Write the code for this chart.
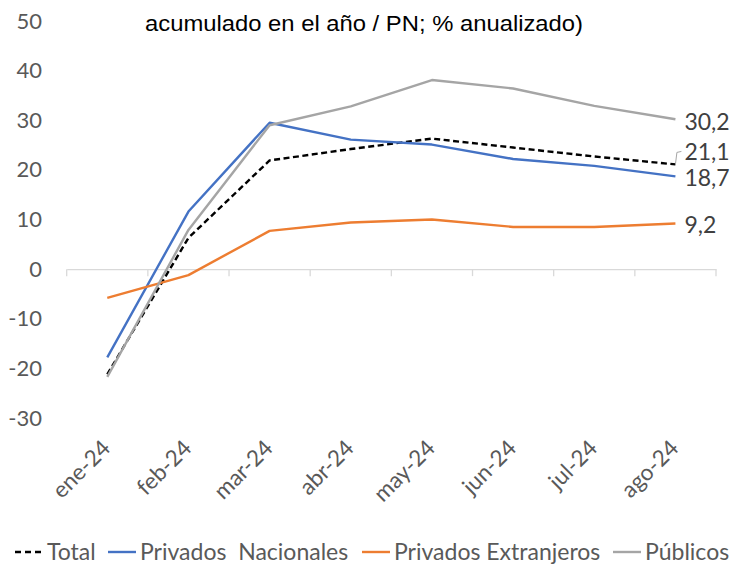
<!DOCTYPE html>
<html>
<head>
<meta charset="utf-8">
<script src="https://cdn.jsdelivr.net/npm/d3@7"></script>
<style>
    body { margin: 0; background: #ffffff; }
    svg { display: block; }
</style>
</head>
<body>
<div id="chart-holder"></div>
<script>

// data
var months = ['ene-24', 'feb-24', 'mar-24', 'abr-24', 'may-24', 'jun-24', 'jul-24', 'ago-24'];
var seriesNames = ['Total', 'Privados  Nacionales', 'Privados Extranjeros', 'Públicos'];
var total = [-21.2, 6.3, 21.9, 24.2, 26.3, 24.5, 22.7, 21.1];
var privadosNacionales = [-17.8, 11.6, 29.5, 26.1, 25.1, 22.2, 20.8, 18.7];
var privadosExtranjeros = [-5.8, -1.2, 7.7, 9.4, 10.0, 8.5, 8.5, 9.2];
var publicos = [-21.7, 7.9, 29.0, 32.8, 38.1, 36.4, 32.9, 30.2];
var endLabels = ['21,1', '18,7', '9,2', '30,2'];
var yTicks = [-30, -20, -10, 0, 10, 20, 30, 40, 50];
var titleText = 'acumulado en el año / PN; % anualizado)';

function createChart(elementId) {

    var width = 731;
    var height = 565;

    var svg = d3
        .select(elementId)
        .append('svg')
        .attr('width', width)
        .attr('height', height);

    var series = [
        { name: seriesNames[0], values: total, color: '#000000', dash: '6,3.5', label: endLabels[0], nudge: -12 },
        { name: seriesNames[1], values: privadosNacionales, color: '#4472C4', dash: null, label: endLabels[1], nudge: 2 },
        { name: seriesNames[2], values: privadosExtranjeros, color: '#ED7D31', dash: null, label: endLabels[2], nudge: 1.5 },
        { name: seriesNames[3], values: publicos, color: '#A5A5A5', dash: null, label: endLabels[3], nudge: 3 }
    ];

    // scales
    var x = d3
        .scaleBand()
        .domain(months)
        .range([66.7, 716]);

    var y = d3
        .scaleLinear()
        .domain([-30, 50])
        .range([418, 21]);

    var labelFont = 'Lato, "Open Sans", sans-serif';

    // title (first line is cut off in the original)
    svg
        .append('text')
        .attr('x', 145)
        .attr('y', 31)
        .attr('textLength', 438)
        .attr('lengthAdjust', 'spacingAndGlyphs')
        .style('font-family', '"Liberation Sans", Arial, sans-serif')
        .style('font-size', '22px')
        .style('fill', '#000000')
        .text(titleText);

    // y axis labels only, no gridlines
    var yAxis = d3
        .axisLeft(y)
        .tickValues(yTicks)
        .tickFormat(function(d) { return String(d); })
        .tickSize(0)
        .tickPadding(0);

    var yGroup = svg
        .append('g')
        .attr('class', 'y-axis')
        .attr('transform', 'translate(42,0)')
        .call(yAxis);

    yGroup.select('.domain').remove();
    yGroup
        .selectAll('text')
        .style('font-family', labelFont)
        .style('font-size', '22px')
        .style('fill', '#595959');

    // x axis on the zero line
    var xAxis = d3
        .axisBottom(x)
        .tickSizeInner(0)
        .tickSizeOuter(0);

    var xGroup = svg
        .append('g')
        .attr('class', 'x-axis')
        .attr('transform', 'translate(0,' + y(0) + ')')
        .call(xAxis);

    xGroup
        .select('.domain')
        .style('stroke', '#D9D9D9')
        .style('stroke-width', 1.3);

    xGroup.selectAll('.tick line').remove();
    xGroup.selectAll('.tick text').remove();

    // tick marks between the categories
    var boundaries = months.map(function(d) {
        return x(d);
    }).concat([x.range()[1]]);

    xGroup
        .selectAll('.sep-tick')
        .data(boundaries)
        .enter()
        .append('line')
        .attr('class', 'sep-tick')
        .attr('x1', function(d) { return d; })
        .attr('x2', function(d) { return d; })
        .attr('y1', 0)
        .attr('y2', 7)
        .style('stroke', '#D9D9D9')
        .style('stroke-width', 1.3);

    // rotated month labels below the plot
    svg
        .append('g')
        .attr('class', 'month-labels')
        .selectAll('text')
        .data(months)
        .enter()
        .append('text')
        .attr('transform', function(d) {
            return 'translate(' + (x(d) + x.bandwidth() / 2 - 1) + ',444) rotate(-45)';
        })
        .attr('text-anchor', 'end')
        .attr('dy', '0.35em')
        .style('font-family', labelFont)
        .style('font-size', '22.5px')
        .style('fill', '#595959')
        .text(function(d) { return d; });

    // lines
    var line = d3
        .line()
        .x(function(d, i) { return x(months[i]) + x.bandwidth() / 2; })
        .y(function(d) { return y(d); });

    var lineGroup = svg
        .append('g')
        .attr('class', 'lines');

    lineGroup
        .selectAll('path')
        .data(series)
        .enter()
        .append('path')
        .attr('d', function(d) { return line(d.values); })
        .style('fill', 'none')
        .style('stroke', function(d) { return d.color; })
        .style('stroke-width', 2.4)
        .style('stroke-dasharray', function(d) { return d.dash; })
        .style('stroke-linejoin', 'round');

    // end labels
    var lastX = x(months[months.length - 1]) + x.bandwidth() / 2;
    var labelX = lastX + 9;

    svg
        .append('g')
        .attr('class', 'end-labels')
        .selectAll('text')
        .data(series)
        .enter()
        .append('text')
        .attr('x', labelX)
        .attr('y', function(d) { return y(d.values[d.values.length - 1]) + d.nudge; })
        .attr('dy', '0.35em')
        .style('font-family', labelFont)
        .style('font-size', '23px')
        .style('fill', '#404040')
        .text(function(d) { return d.label; });

    // leader line for the Total label
    var totalEndY = y(total[total.length - 1]);
    svg
        .append('path')
        .attr('d', 'M' + lastX + ',' + totalEndY +
            'L' + (lastX + 1.5) + ',' + (totalEndY - 12) +
            'L' + (lastX + 6) + ',' + (totalEndY - 13))
        .style('fill', 'none')
        .style('stroke', '#A6A6A6')
        .style('stroke-width', 1);

    // legend
    var legendX = [15, 108, 362, 613];
    var legendY = 552;

    var legend = svg
        .append('g')
        .attr('class', 'legend')
        .selectAll('g')
        .data(series)
        .enter()
        .append('g')
        .attr('transform', function(d, i) {
            return 'translate(' + legendX[i] + ',' + legendY + ')';
        });

    legend
        .append('line')
        .attr('x1', 0)
        .attr('x2', 28)
        .attr('y1', 0)
        .attr('y2', 0)
        .style('stroke', function(d) { return d.color; })
        .style('stroke-width', 2.4)
        .style('stroke-dasharray', function(d) { return d.dash ? '6,4' : null; });

    legend
        .append('text')
        .attr('x', 32)
        .attr('y', 0)
        .attr('dy', '0.35em')
        .style('font-family', labelFont)
        .style('font-size', '23px')
        .style('fill', '#595959')
        .style('white-space', 'pre')
        .text(function(d) { return d.name; });
}

createChart('#chart-holder');
</script>
</body>
</html>
